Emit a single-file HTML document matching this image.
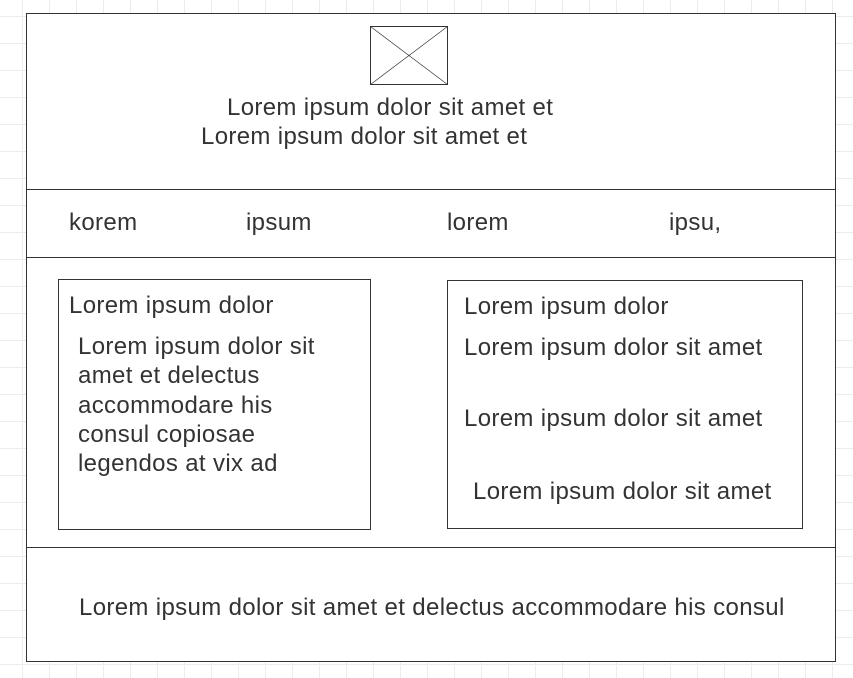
<!DOCTYPE html>
<html><head><style>
html,body{margin:0;padding:0;}
body{width:853px;height:678px;position:relative;overflow:hidden;background:#fff;
background-image:linear-gradient(to right,#ececec 1px,transparent 1px),linear-gradient(to bottom,#ececec 1px,transparent 1px);
background-size:27px 27px;background-position:22px 16px;
font-family:"Liberation Sans",sans-serif;color:#333;}
.b{position:absolute;border:1px solid #333;background:#fff;box-sizing:border-box;}
.l{position:absolute;height:1px;background:#333;}
.t{position:absolute;white-space:nowrap;line-height:29px;font-size:24px;letter-spacing:0.35px;}
</style></head><body>
<div class="b" style="left:26px;top:13px;width:810px;height:649px;"></div>
<div class="l" style="left:26px;top:189px;width:810px;"></div>
<div class="l" style="left:26px;top:257px;width:810px;"></div>
<div class="l" style="left:26px;top:547px;width:810px;"></div>
<svg style="position:absolute;left:370px;top:26px" width="78" height="59"><rect x="0.5" y="0.5" width="77" height="58" fill="#fff" stroke="#333"/><line x1="0.5" y1="0.5" x2="77.5" y2="58.5" stroke="#333" stroke-width="0.7"/><line x1="77.5" y1="0.5" x2="0.5" y2="58.5" stroke="#333" stroke-width="0.7"/></svg>
<div class="t" style="left:227px;top:93px">Lorem ipsum dolor sit amet et</div>
<div class="t" style="left:201px;top:122px">Lorem ipsum dolor sit amet et</div>
<div class="t" style="left:69px;top:208px">korem</div>
<div class="t" style="left:246px;top:208px">ipsum</div>
<div class="t" style="left:447px;top:208px">lorem</div>
<div class="t" style="left:669px;top:208px">ipsu,</div>
<div class="b" style="left:58px;top:279px;width:313px;height:251px;"></div>
<div class="t" style="left:69px;top:291px">Lorem ipsum dolor</div>
<div class="t" style="left:78px;top:332px">Lorem ipsum dolor sit</div>
<div class="t" style="left:78px;top:361px">amet et delectus</div>
<div class="t" style="left:78px;top:391px">accommodare his</div>
<div class="t" style="left:78px;top:420px">consul copiosae</div>
<div class="t" style="left:78px;top:449px">legendos at vix ad</div>
<div class="b" style="left:447px;top:280px;width:356px;height:249px;"></div>
<div class="t" style="left:464px;top:292px">Lorem ipsum dolor</div>
<div class="t" style="left:464px;top:333px">Lorem ipsum dolor sit amet</div>
<div class="t" style="left:464px;top:404px">Lorem ipsum dolor sit amet</div>
<div class="t" style="left:473px;top:477px">Lorem ipsum dolor sit amet</div>
<div class="t" style="left:79px;top:593px">Lorem ipsum dolor sit amet et delectus accommodare his consul</div>
</body></html>
